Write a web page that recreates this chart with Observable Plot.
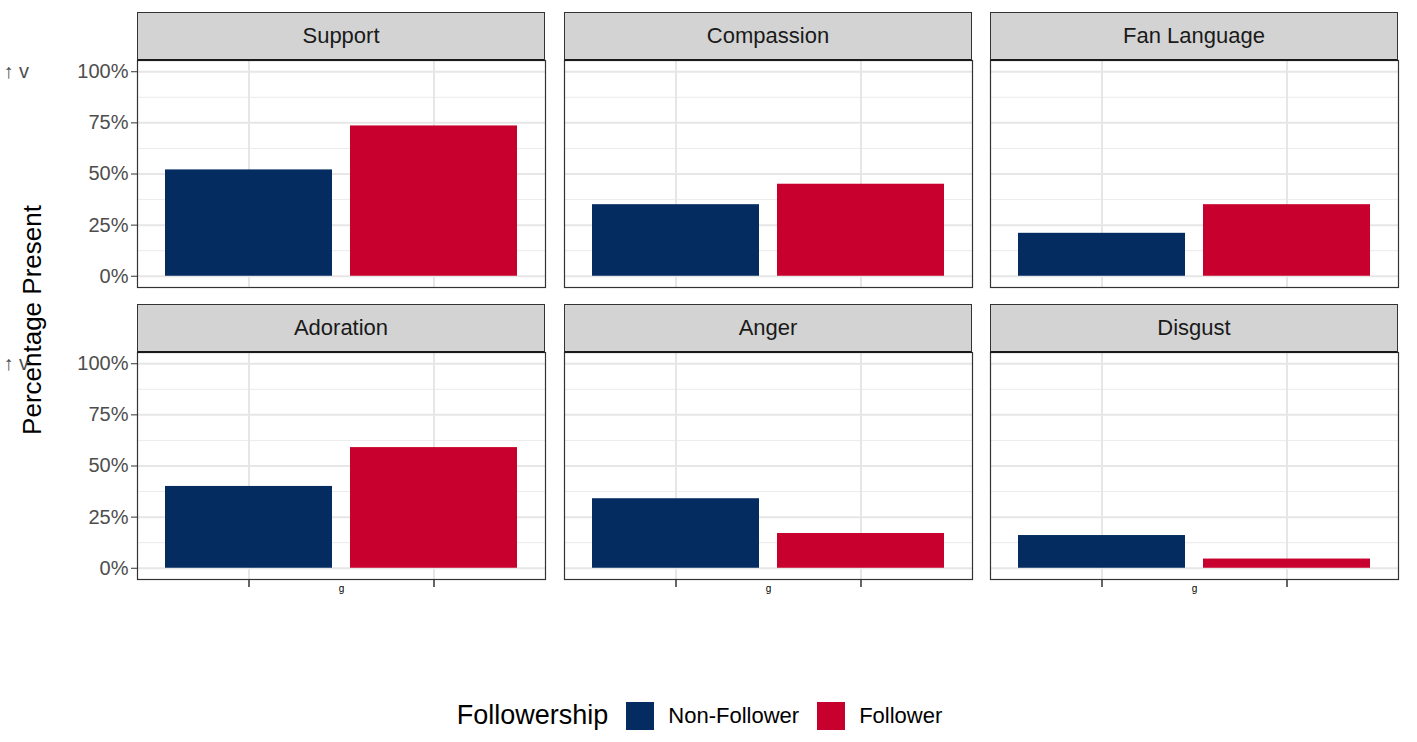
<!DOCTYPE html>
<html><head><meta charset="utf-8">
<script src="https://cdn.jsdelivr.net/npm/d3@7"></script>
<script src="https://cdn.jsdelivr.net/npm/@observablehq/plot@0.6"></script>
<style>
body{margin:0;background:#fff;font-family:"Liberation Sans",Arial,sans-serif;}
#wrap{position:relative;width:1417px;height:742px;overflow:hidden;}
.strip{position:absolute;box-sizing:border-box;background:#d3d3d3;border:1px solid #333;border-bottom:2px solid #1a1a1a;font-size:22px;color:#1a1a1a;display:flex;align-items:center;justify-content:center;}
.p{position:absolute;}
</style></head><body><div id="wrap"></div>
<script>
const panels = ["Support","Compassion","Fan Language","Adoration","Anger","Disgust"];
const groups = ["Non-Follower","Follower"];
const nonFollower = [0.52,0.35,0.21,0.40,0.34,0.16];
const follower = [0.735,0.45,0.35,0.59,0.17,0.045];
const colors = ["#052c60","#c8002d"];
const yTicks = [0,0.25,0.5,0.75,1];
const yMinor = [0.125,0.375,0.625,0.875];

const wrap = document.getElementById("wrap");
const colX = [137,564,990], rowY = [60,352], W = 408, H = 227;
panels.forEach((name,i)=>{
  const c = i%3, r = Math.floor(i/3);
  const data = [{g:groups[0],v:nonFollower[i]},{g:groups[1],v:follower[i]}];
  const ml = c===0?137:0, mb = r===1?15:0;
  const marks = [
    Plot.ruleY(yMinor,{stroke:"#ebebeb",strokeWidth:1}),
    Plot.ruleY(yTicks,{stroke:"#e6e6e6",strokeWidth:2}),
    Plot.ruleX(groups,{x:d=>d,stroke:"#e6e6e6",strokeWidth:2}),
    Plot.barY(data,{x:"g",y:"v",fill:"g"}),
    Plot.frame({stroke:"#333",strokeWidth:1.2})
  ];
  if(c===0) marks.push(Plot.axisY(yTicks,{tickFormat:d=>Math.round(d*100)+"%",tickSize:6,tickPadding:3,fontSize:20,color:"#4d4d4d",stroke:"#333"}));
  if(r===1) marks.push(Plot.axisX({tickFormat:()=>"",tickSize:8,stroke:"#333",strokeWidth:1.5}));
  const p = Plot.plot({
    width:W+ml,height:H+mb,marginLeft:ml,marginRight:0,marginTop:0,marginBottom:mb,
    style:{fontFamily:"Liberation Sans, Arial, sans-serif",background:"transparent",overflow:"visible"},
    x:{domain:groups,paddingInner:0.1,paddingOuter:0.15,axis:null},
    y:{domain:[-0.055,1.055],axis:null},
    color:{domain:groups,range:colors},
    marks
  });
  p.classList.add("p");
  p.style.left=(colX[c]-ml)+"px"; p.style.top=rowY[r]+"px";
  wrap.appendChild(p);
  const s=document.createElement("div");s.className="strip";s.textContent=name;
  s.style.left=colX[c]+"px";s.style.top=(rowY[r]-48)+"px";s.style.width=W+"px";s.style.height="49px";
  wrap.appendChild(s);
});
const yt=document.createElement("div");
yt.textContent="Percentage Present";
yt.style.cssText="position:absolute;left:32px;top:320px;transform:translate(-50%,-50%) rotate(-90deg);font-size:26px;color:#000;white-space:nowrap;";
wrap.appendChild(yt);
const lg=document.createElement("div");
lg.style.cssText="position:absolute;left:0;width:1417px;top:700px;display:flex;justify-content:center;align-items:center;font-size:22px;color:#000;";
lg.innerHTML='<span style="font-size:27px;margin-right:18px">Followership</span>'+
 groups.map((g,k)=>`<span style="display:inline-block;width:28px;height:28px;background:${colors[k]};margin-right:14px"></span><span style="margin-right:18px">${g}</span>`).join("");
wrap.appendChild(lg);
</script></body></html>
